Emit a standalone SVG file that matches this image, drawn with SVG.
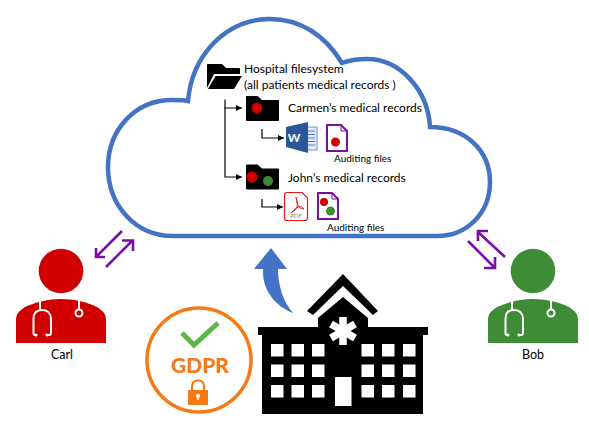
<svg xmlns="http://www.w3.org/2000/svg" width="589" height="422" viewBox="0 0 589 422">
<style>
text{font-family:"Lato","Liberation Sans",sans-serif;fill:#000}
.l{font-size:12px}
.n{font-size:12.500px}
.s{font-size:10px}
.doc{fill:#fff;stroke:#7A0DA6;stroke-width:2;stroke-linejoin:miter}
.tree{fill:none;stroke:#000;stroke-width:1.2;marker-end:url(#tri)}
.two{fill:none;stroke:#7A0DA6;stroke-width:2.600}
.st{fill:none;stroke:#fff;stroke-width:2;stroke-linecap:round}
.r{fill:#D00000}.g{fill:#3F8C37}
.win{fill:#fff}
</style>
<defs>
<marker id="tri" markerUnits="userSpaceOnUse" markerWidth="7" markerHeight="7" refX="6" refY="3" orient="auto"><path d="M0,0L6,3L0,6Z" fill="#000"/></marker>
<g id="steth">
<path class="st" d="M40,299V309"/>
<path class="st" d="M36,335H34.500Q33.500,335 33.500,332V319C33.500,314 36,310 42,310C48,310 51,314 51,319V332Q51,335 49.500,335H47"/>
<path class="st" d="M79,299V309"/>
<circle cx="79" cy="313" r="3.500" fill="none" stroke="#fff" stroke-width="2"/>
<circle cx="36" cy="335" r="1.500" fill="#fff"/><circle cx="47" cy="335" r="1.500" fill="#fff"/>
</g>
<path id="body" d="M16,343V320C16,314 19,311 25,307C36,302 48,299 61,299C74,299 87,302 97,307C103,311 106,314 106,320V343Z"/>
<path id="fold" d="M247,96H257.500L262,100H278Q279,100 279,101V120Q279,121 278,121H247Q246,121 246,120V97Q246,96 247,96Z" fill="#000"/>
</defs>
<rect width="589" height="422" fill="#fff"/>

<g id="cloud"><path d="M173,236H437C468,236 490,212 490,182C490,150 465,127 430,127C428,90 400,59 367,59C358,59 350,60 342,63C325,35 300,19 270,19C226,19 192,55 188,101C184,100 178,100 172,100C135,100 108,130 108,167C108,205 135,236 173,236Z" fill="#fff" stroke="#4472C4" stroke-width="4.500"/></g>

<g id="connectors">
<path class="tree" d="M225,99.500V108H242"/>
<path class="tree" d="M225,108V177H242"/>
<path class="tree" d="M262,129V138H284"/>
<path class="tree" d="M262,199V207H283"/>
<path class="two" d="M122,231L96.500,256.500M96,248V257H105"/>
<path class="two" d="M106,267L132.500,240.500M122,240.500H133V251"/>
<path class="two" d="M505,257L477.500,231.500M478,241V231H488"/>
<path class="two" d="M468,241L494.500,267.500M495,257V268H484"/>
<path id="upload" d="M271,248L287,269H278C278,285 283,302 293,313C275,306 262,290 263,269H254Z" fill="#4472C4"/>
</g>

<g id="root-folder">
<path d="M207,65Q207,64 208,64H222L226,68H239Q240,68 240,69V74H214L207,88Z" fill="#000"/>
<path d="M215.500,76H242L234,89H208Z" fill="#000"/>
<text class="l" x="244" y="73">Hospital filesystem</text>
<text class="l" x="244" y="89">(all patients medical records )</text>
</g>

<g id="carmen-folder">
<use href="#fold"/>
<circle cx="257" cy="108" r="5.300" class="r"/>
<text class="l" x="288" y="112">Carmen’s medical records</text>
</g>

<g id="word-file">
<rect x="300" y="127" width="17" height="23" fill="#E3EAF5" stroke="#6C93CC" stroke-width="1"/>
<path d="M306,131H315M306,134.500H315M306,138H315M306,141.500H315M306,145H315" stroke="#4F7EC0" stroke-width="1"/>
<path d="M286,127L308,122V153L286,147Z" fill="#2B579A"/>
<text x="294" y="142" text-anchor="middle" style="fill:#fff;font-size:12px;font-weight:700">W</text>
</g>

<g id="carmen-audit">
<path class="doc" d="M327,125H341L347,131V151H327Z"/>
<path d="M341,125V131H347" fill="none" stroke="#7A0DA6" stroke-width="1"/>
<circle cx="335.500" cy="142" r="4.500" class="r"/>
<text class="s" x="334" y="162">Auditing files</text>
</g>

<g id="john-folder">
<use href="#fold" y="68.500"/>
<circle cx="252" cy="177" r="5.500" class="r"/>
<circle cx="268" cy="181" r="5" class="g"/>
<text class="l" x="288" y="182">John’s medical records</text>
</g>

<g id="pdf-file">
<path d="M287,192.500H302L307.500,198V218Q307.500,220.500 305,220.500H287Q284.500,220.500 284.500,218V195Q284.500,192.500 287,192.500Z" fill="#fff" stroke="#F01414" stroke-width="1.200"/>
<path d="M296,197C298,203 299,209 291,213C297,206 301,205 304,209C300,209 297,207 296,197Z" fill="none" stroke="#E02020" stroke-width="1"/>
<text x="296" y="217.500" text-anchor="middle" style="fill:#888;font-size:6px">PDF</text>
</g>

<g id="john-audit">
<path class="doc" d="M318,193H332L338,199V219H318Z"/>
<path d="M332,193V199H338" fill="none" stroke="#7A0DA6" stroke-width="1"/>
<circle cx="324" cy="202" r="4" class="r"/>
<circle cx="330.500" cy="211" r="4.500" class="g"/>
<text class="s" x="327" y="231">Auditing files</text>
</g>

<g id="carl">
<circle cx="61" cy="271" r="22.300" class="r"/>
<use href="#body" class="r"/>
<use href="#steth"/>
<text class="n" x="62" y="359" text-anchor="middle">Carl</text>
</g>

<g id="bob">
<circle cx="533" cy="271" r="22.300" class="g"/>
<use href="#body" class="g" x="472"/>
<use href="#steth" x="472"/>
<text class="n" x="533" y="359" text-anchor="middle">Bob</text>
</g>

<g id="gdpr">
<circle cx="199" cy="360" r="52" fill="#fff" stroke="#F57A14" stroke-width="3.500"/>
<path d="M182,333L194,345L218,323" fill="none" stroke="#5DB645" stroke-width="5"/>
<text x="200" y="373" text-anchor="middle" style="fill:#F57A14;font-size:21px;font-weight:900">GDPR</text>
<path d="M192,391V386.500C192,382.500 194.500,380.500 198,380.500C201.500,380.500 204,382.500 204,386.500V391" fill="none" stroke="#F57A14" stroke-width="2.200"/>
<rect x="188" y="390" width="20" height="15" rx="1" fill="#F57A14"/>
<circle cx="198" cy="396" r="2" fill="#fff"/><rect x="197.300" y="396" width="1.400" height="4" fill="#fff"/>
</g>

<g id="hospital">
<path d="M343,274L378,311L373,315L343,286L313,315L307,311Z" fill="#000"/>
<path d="M318,327V318L343,297L368,318V327Z" fill="#000"/>
<rect x="258" y="327" width="170" height="8" fill="#000"/>
<rect x="262" y="335" width="161" height="79" fill="#000"/>
<g stroke="#fff" stroke-width="7.500"><path d="M343,317V345"/><path d="M331,324L355,338"/><path d="M355,324L331,338"/></g>
<g class="win">
<rect x="271" y="344" width="12.500" height="12.500"/><rect x="291.500" y="344" width="12.500" height="12.500"/><rect x="312" y="344" width="12.500" height="12.500"/>
<rect x="361.500" y="344" width="12.500" height="12.500"/><rect x="382" y="344" width="12.500" height="12.500"/><rect x="403" y="344" width="12.500" height="12.500"/>
<rect x="271" y="364.500" width="12.500" height="12.500"/><rect x="291.500" y="364.500" width="12.500" height="12.500"/><rect x="312" y="364.500" width="12.500" height="12.500"/>
<rect x="361.500" y="364.500" width="12.500" height="12.500"/><rect x="382" y="364.500" width="12.500" height="12.500"/><rect x="403" y="364.500" width="12.500" height="12.500"/>
<rect x="271" y="385" width="12.500" height="12.500"/><rect x="291.500" y="385" width="12.500" height="12.500"/><rect x="312" y="385" width="12.500" height="12.500"/>
<rect x="361.500" y="385" width="12.500" height="12.500"/><rect x="382" y="385" width="12.500" height="12.500"/><rect x="403" y="385" width="12.500" height="12.500"/>
<rect x="335" y="377" width="16.500" height="29"/>
</g>
</g>
</svg>
